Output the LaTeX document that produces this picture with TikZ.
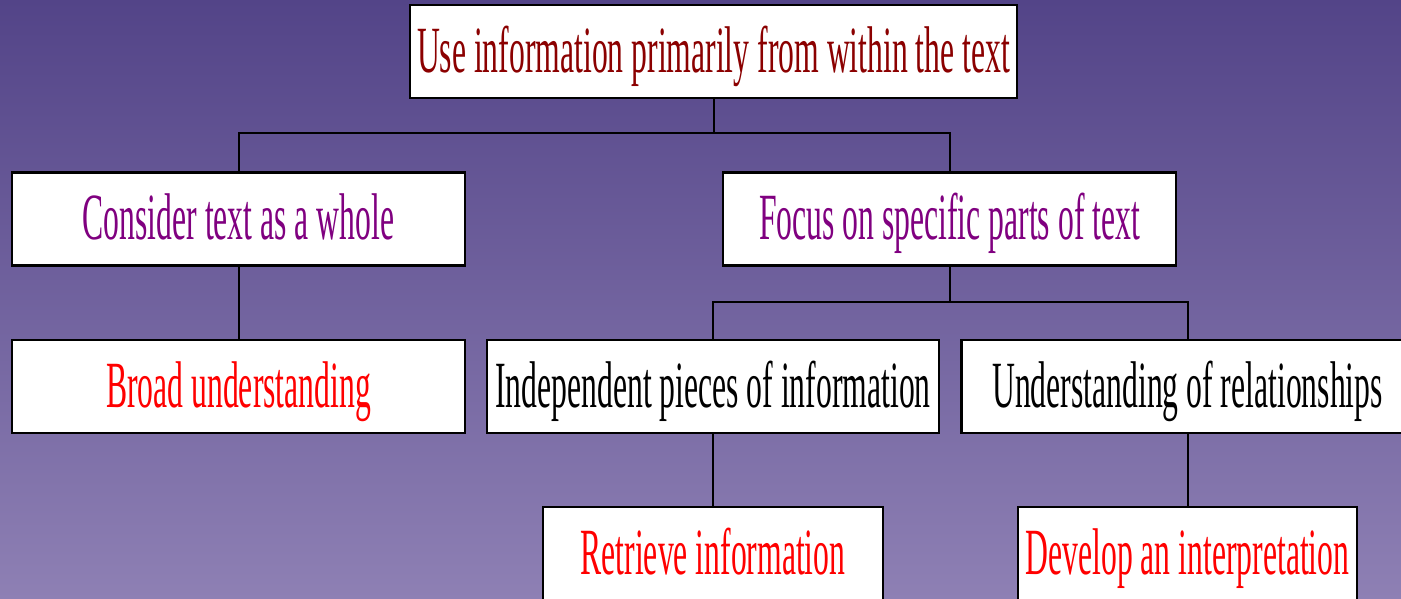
\documentclass[tikz,border=0pt]{standalone}
\usepackage{fontspec}
\setmainfont[FakeStretch=0.48]{Liberation Serif}
\definecolor{bgtop}{RGB}{83,68,136}
\definecolor{bgbot}{RGB}{142,128,180}
\definecolor{topred}{RGB}{139,0,0}
\definecolor{lvpurple}{RGB}{128,0,128}
\tikzset{
  box/.style={draw=black, fill=white, line width=2.6pt, inner sep=0pt,
    minimum height=93pt, text height=46pt, text depth=4pt,
    font=\fontsize{66}{70}\selectfont},
  conn/.style={draw=black, line width=2pt}
}
\begin{document}
\begin{tikzpicture}[x=1pt,y=-1pt]
\useasboundingbox (0,0) rectangle (1401,599);
\clip (0,0) rectangle (1401,599);
\shade[top color=bgtop, bottom color=bgbot] (0,0) rectangle (1401,599);
\coordinate (j1) at (713.5,133);
\coordinate (j2) at (949.5,302);
\node[box, minimum width=607pt, text=topred] (top) at (713.5,51.5) {Use information primarily from within the text};
\node[box, minimum width=453pt, text=lvpurple] (cons) at (238.5,219) {Consider text as a whole};
\node[box, minimum width=453pt, text=lvpurple] (focus) at (949.5,219) {Focus on specific parts of text};
\node[box, minimum width=453pt, text=red] (broad) at (238.5,386.5) {Broad understanding};
\node[box, minimum width=452pt, text=black] (indep) at (713,386.5) {Independent pieces of information};
\node[box, minimum width=452pt, text=black] (under) at (1187.5,386.5) {Understanding of relationships};
\node[box, minimum width=340pt, text=red] (retr) at (713,553.5) {Retrieve information};
\node[box, minimum width=339pt, text=red] (dev) at (1187.5,553.5) {Develop an interpretation};
\draw[conn] (top.south) -- (j1);
\draw[conn] (cons.north) |- (j1) -| (focus.north);
\draw[conn] (cons.south) -- (broad.north);
\draw[conn] (focus.south) -- (j2);
\draw[conn] (indep.north) |- (j2) -| (under.north);
\draw[conn] (indep.south) -- (retr.north);
\draw[conn] (under.south) -- (dev.north);
\end{tikzpicture}
\end{document}
